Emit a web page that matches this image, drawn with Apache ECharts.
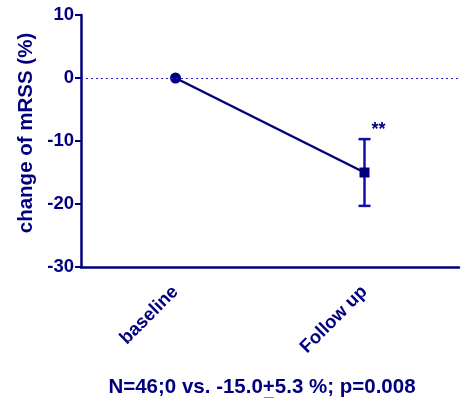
<!DOCTYPE html>
<html><head><meta charset="utf-8">
<script src="https://cdn.jsdelivr.net/npm/echarts@6/dist/echarts.min.js"></script>
<style>html,body{margin:0;padding:0;background:#fff}#c{width:463px;height:401px}</style>
</head><body><div id="c"></div>
<script>
const categories = ['baseline', 'Follow up'];
const means = [0, -15.0];
const sds = [0, 5.3];
const yTicks = [-30, -20, -10, 0, 10];
const sigLabels = ['', '**'];
const captionBefore = 'N=46;0 vs. -15.0';
const captionPm = '+';
const captionAfter = '5.3 %; p=0.008';

const navy = '#00007f';
const FONT = 'Liberation Sans, Arial, sans-serif';
const capFont = 'bold 20.5px ' + FONT;
const chart = echarts.init(document.getElementById('c'));

// measure caption for centering and the underline under "+"
const ctx = document.createElement('canvas').getContext('2d');
ctx.font = capFont;
const caption = captionBefore + captionPm + captionAfter;
const capW = ctx.measureText(caption).width;
const capX = 262 - capW / 2;
const pmX0 = capX + ctx.measureText(captionBefore).width;
const pmW = ctx.measureText(captionPm).width;

chart.setOption({
  animation: false,
  grid: {left: 81, right: 4, top: 15, bottom: 134, containLabel: false, outerBoundsMode: 'none'},
  xAxis: {
    type: 'category', data: categories, boundaryGap: true,
    axisLine: {onZero: false, lineStyle: {color: navy, width: 2.5}},
    axisTick: {alignWithLabel: true, length: 6, lineStyle: {color: navy, width: 2}},
    axisLabel: {rotate: 45, color: navy, fontFamily: FONT, fontWeight: 'bold', fontSize: 18.5, margin: 22}
  },
  yAxis: {
    type: 'value', min: yTicks[0], max: yTicks[yTicks.length-1], interval: 10,
    name: 'change of mRSS (%)', nameLocation: 'middle', nameGap: 37,
    nameTextStyle: {color: navy, fontFamily: FONT, fontWeight: 'bold', fontSize: 20.5, padding: [0,0,0,16]},
    axisLine: {show: true, lineStyle: {color: navy, width: 2.5}},
    axisTick: {show: true, length: 6, lineStyle: {color: navy, width: 2}},
    splitLine: {show: false},
    axisLabel: {color: navy, fontFamily: FONT, fontWeight: 'bold', fontSize: 18.5, margin: 7}
  },
  series: [
    {
      type: 'line',
      data: means.map((v, i) => ({value: v, symbol: i === 0 ? 'circle' : 'rect', symbolSize: i === 0 ? 11 : 10})),
      lineStyle: {color: navy, width: 2.5},
      itemStyle: {color: navy},
      markLine: {
        silent: true, symbol: 'none', label: {show: false},
        lineStyle: {type: [2, 3], color: '#2020c0', width: 1},
        data: [{yAxis: 0}]
      },
      z: 3
    },
    {
      type: 'custom',
      data: means.map((m, i) => [i, m - sds[i], m + sds[i], sigLabels[i]]),
      renderItem: function (params, api) {
        const x = api.coord([api.value(0), 0])[0];
        const lo = api.coord([api.value(0), api.value(1)])[1];
        const hi = api.coord([api.value(0), api.value(2)])[1];
        if (Math.abs(hi - lo) < 1) return null;
        const w = 6;
        const st = {stroke: '#1010a8', lineWidth: 2.5};
        const children = [
          {type: 'line', shape: {x1: x, y1: lo, x2: x, y2: hi}, style: st},
          {type: 'line', shape: {x1: x - w, y1: lo, x2: x + w, y2: lo}, style: st},
          {type: 'line', shape: {x1: x - w, y1: hi, x2: x + w, y2: hi}, style: st}
        ];
        const lab = api.value(3);
        if (lab) children.push({type: 'text', x: x + 7, y: hi - 18, style: {text: lab, fill: navy, font: 'bold 18px ' + FONT}});
        return {type: 'group', children: children};
      },
      z: 2
    }
  ],
  graphic: [
    {type: 'text', left: capX, top: 377, style: {text: caption, fill: navy, font: capFont}},
    {type: 'line', shape: {x1: pmX0 + 1, y1: 397.5, x2: pmX0 + pmW - 1, y2: 397.5}, style: {stroke: '#8080c0', lineWidth: 1}}
  ]
});
</script>
</body></html>
